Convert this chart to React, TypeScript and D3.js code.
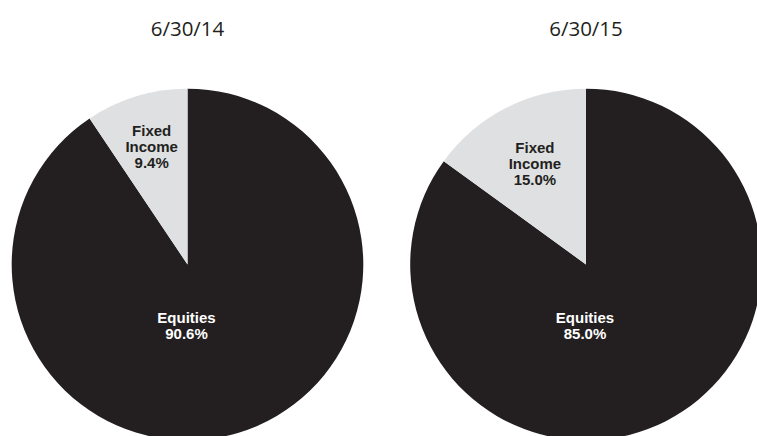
import React from "react";
import * as d3 from "d3";

const dates = ["6/30/14", "6/30/15"];
const categories = ["Equities", "Fixed Income"];
const equitiesPct = [90.6, 85.0];
const fixedIncomePct = [9.4, 15.0];

const W = 757;
const H = 436;
const colors: Record<string, string> = { "Equities": "#231f20", "Fixed Income": "#dfe0e2" };
const textColors: Record<string, string> = { "Equities": "#ffffff", "Fixed Income": "#231f20" };

export default function App() {
  const centersX = [187.5, 586];
  const cy = 264.5;
  const r = 175.8;
  const arc = d3.arc<d3.PieArcDatum<{ name: string; value: number }>>().innerRadius(0).outerRadius(r);
  const pie = d3
    .pie<{ name: string; value: number }>()
    .sort(null)
    .value((d) => d.value)
    .startAngle(0)
    .endAngle(2 * Math.PI);

  return (
    <svg
      width={W}
      height={H}
      style={{ position: "absolute", left: 0, top: 0, display: "block" }}
      viewBox={`0 0 ${W} ${H}`}
    >
      <rect width={W} height={H} fill="#ffffff" />
      {dates.map((date, i) => {
        const data = [
          { name: categories[0], value: equitiesPct[i] },
          { name: categories[1], value: fixedIncomePct[i] },
        ];
        const arcs = pie(data);
        const cx = centersX[i];
        return (
          <g key={date}>
            <text
              x={cx}
              y={36}
              textAnchor="middle"
              fontFamily="'Open Sans', sans-serif"
              fontSize={20.5}
              fill="#231f20"
            >
              {date}
            </text>
            <g transform={`translate(${cx},${cy})`}>
              {arcs.map((a) => (
                <path key={a.data.name} d={arc(a) || ""} fill={colors[a.data.name]} />
              ))}
              {arcs.map((a) => {
                let lx: number, ly: number;
                const lines =
                  a.data.name === "Fixed Income"
                    ? ["Fixed", "Income", `${a.data.value.toFixed(1)}%`]
                    : ["Equities", `${a.data.value.toFixed(1)}%`];
                if (a.data.name === "Fixed Income") {
                  const mid = (a.startAngle + a.endAngle) / 2;
                  const rr = r * (i === 0 ? 0.7 : 0.64);
                  lx = Math.sin(mid) * rr;
                  ly = -Math.cos(mid) * rr;
                } else {
                  lx = -1;
                  ly = 61;
                }
                const lh = 16;
                const y0 = ly - ((lines.length - 1) * lh) / 2 + 5;
                return (
                  <text
                    key={a.data.name + "-l"}
                    textAnchor="middle"
                    fontFamily="'Liberation Sans', Arial, sans-serif"
                    fontWeight="bold"
                    fontSize={15}
                    fill={textColors[a.data.name]}
                  >
                    {lines.map((t, k) => (
                      <tspan key={k} x={lx} y={y0 + k * lh}>
                        {t}
                      </tspan>
                    ))}
                  </text>
                );
              })}
            </g>
          </g>
        );
      })}
    </svg>
  );
}
